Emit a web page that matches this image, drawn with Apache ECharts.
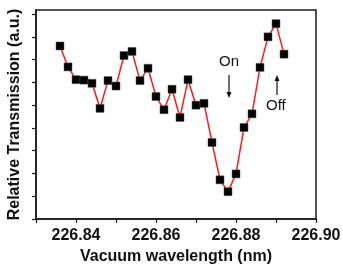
<!DOCTYPE html>
<html>
<head>
<meta charset="utf-8">
<script src="https://cdn.jsdelivr.net/npm/echarts@6/dist/echarts.min.js"></script>
<style>
  html, body { margin: 0; padding: 0; background: #fff; }
  #chart { width: 343px; height: 266px; }
</style>
</head>
<body>
<div id="chart"></div>
<script>
'use strict';

// wavelength (nm) of each measured point
var wavelength = [226.836, 226.838, 226.840, 226.842, 226.844, 226.846, 226.848, 226.850,
    226.852, 226.854, 226.856, 226.858, 226.860, 226.862, 226.864, 226.866, 226.868,
    226.870, 226.872, 226.874, 226.876, 226.878, 226.880, 226.882, 226.884, 226.886,
    226.888, 226.890, 226.892];
// relative transmission (a.u.)
var transmission = [3.80, 3.34, 3.06, 3.05, 2.98, 2.43, 3.04, 2.92, 3.59, 3.68, 3.04, 3.31,
    2.69, 2.40, 2.85, 2.23, 3.06, 2.50, 2.54, 1.68, 0.86, 0.60, 0.99, 2.01, 2.31, 3.33,
    4.00, 4.29, 3.62];
// labelled ticks on x
var xTickLabels = ['226.84', '226.86', '226.88', '226.90'];
// y ticks (no labels)
var yTicks = [0, 0.5, 1, 1.5, 2, 2.5, 3, 3.5, 4, 4.5];

var points = wavelength.map(function (w, i) { return [w, transmission[i]]; });

var chart = echarts.init(document.getElementById('chart'));
var font = '"Liberation Sans", Arial, sans-serif';

chart.setOption({
    backgroundColor: '#fff',
    animation: false,
    grid: {
        left: 36, right: 27, top: 10, bottom: 47,
        outerBoundsMode: 'none',
        containLabel: false,
        show: true, borderColor: '#1a1a1a', borderWidth: 1.5
    },
    xAxis: {
        type: 'value',
        min: 226.83,
        max: 226.90,
        interval: 0.01,
        name: 'Vacuum wavelength (nm)',
        nameLocation: 'middle',
        nameGap: 30,
        nameTextStyle: { fontFamily: font, fontWeight: 'bold', fontSize: 16, color: '#111' },
        axisLine: { lineStyle: { color: '#1a1a1a', width: 1.5 } },
        axisTick: { length: 4, lineStyle: { color: '#1a1a1a', width: 1.2 } },
        splitLine: { show: false },
        axisLabel: {
            margin: 9,
            fontFamily: font, fontWeight: 'bold', fontSize: 16, color: '#111',
            showMinLabel: true, showMaxLabel: true,
            formatter: function (v) {
                var s = v.toFixed(2);
                return xTickLabels.indexOf(s) >= 0 ? s : '';
            }
        }
    },
    yAxis: {
        type: 'value',
        min: 0,
        max: 4.59,
        interval: 0.5,
        name: 'Relative Transmission (a.u.)',
        nameLocation: 'middle',
        nameGap: 13,
        nameTextStyle: { fontFamily: font, fontWeight: 'bold', fontSize: 16, color: '#111' },
        axisLine: { lineStyle: { color: '#1a1a1a', width: 1.5 } },
        axisTick: { length: 4, customValues: yTicks, lineStyle: { color: '#1a1a1a', width: 1.2 } },
        axisLabel: { show: false },
        splitLine: { show: false }
    },
    series: [{
        type: 'line',
        data: points,
        symbol: 'rect',
        symbolSize: 8,
        lineStyle: { color: '#ff1a1a', width: 1.5 },
        itemStyle: { color: '#000', borderColor: '#555', borderWidth: 0.5 }
    }],
    graphic: [
        { type: 'text', left: 219, top: 54,
          style: { text: 'On', font: '15px ' + font, fill: '#111' } },
        { type: 'line', shape: { x1: 229, y1: 75, x2: 229, y2: 95 },
          style: { stroke: '#111', lineWidth: 1.2 } },
        { type: 'polygon', shape: { points: [[226.5, 92], [231.5, 92], [229, 98]] },
          style: { fill: '#111' } },
        { type: 'text', left: 266, top: 98,
          style: { text: 'Off', font: '15px ' + font, fill: '#111' } },
        { type: 'line', shape: { x1: 277, y1: 78, x2: 277, y2: 95 },
          style: { stroke: '#111', lineWidth: 1.2 } },
        { type: 'polygon', shape: { points: [[274.5, 81], [279.5, 81], [277, 75]] },
          style: { fill: '#111' } }
    ]
});
</script>
</body>
</html>
